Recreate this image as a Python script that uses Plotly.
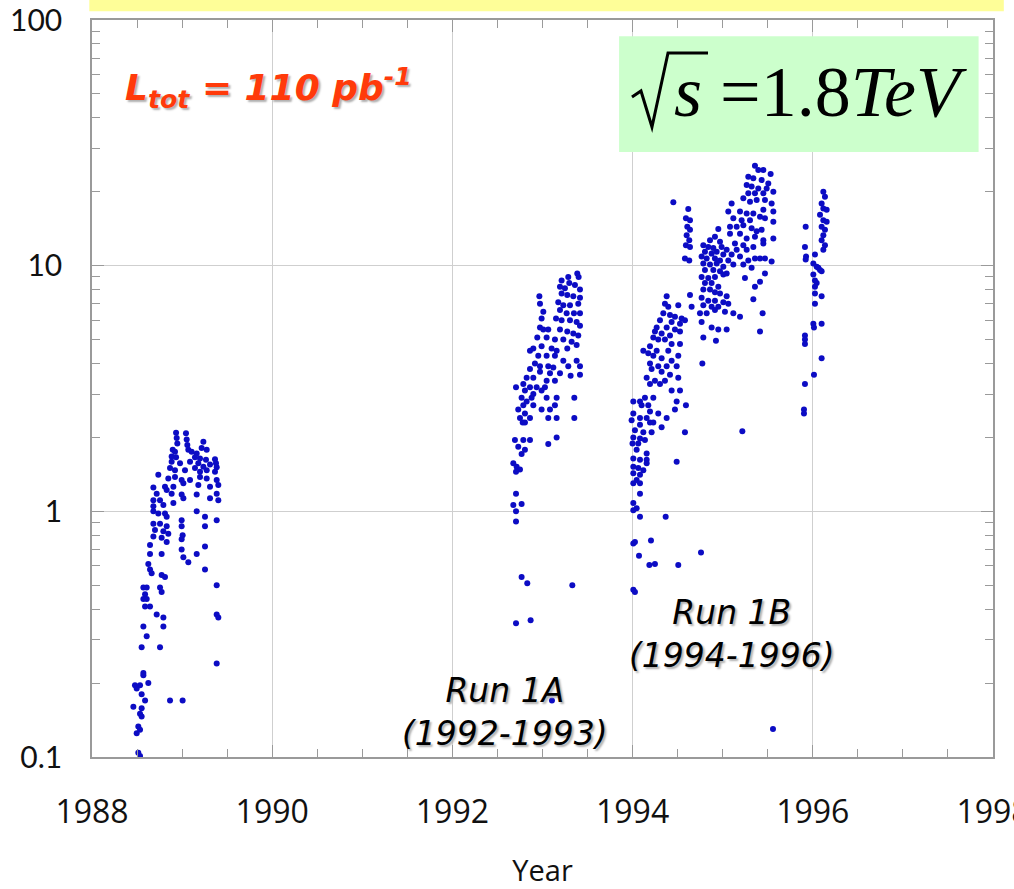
import plotly.graph_objects as go

# ---- data: (year, peak luminosity) ----
run0_year = [1988.933,1989.043,1988.940,1989.051,1988.947,1989.058,1989.236,1988.896,1988.921,1989.069,
 1989.106,1989.162,1989.217,1989.273,1988.884,1988.933,1989.143,1989.199,1989.265,1989.365,
 1989.376,1988.884,1988.977,1989.088,1989.180,1989.236,1989.310,1989.384,1988.866,1988.921,
 1989.032,1989.143,1989.199,1989.273,1989.365,1988.736,1988.847,1988.921,1988.995,1989.088,
 1989.199,1989.273,1989.384,1988.681,1988.810,1988.903,1989.014,1989.180,1989.310,1989.402,
 1988.718,1988.829,1988.884,1988.995,1989.162,1989.384,1988.681,1988.755,1988.903,1989.014,
 1989.310,1989.402,1988.681,1988.792,1988.681,1988.736,1988.810,1988.829,1988.995,1989.162,
 1989.254,1989.384,1988.681,1988.755,1988.829,1988.995,1989.254,1988.699,1988.792,1988.847,
 1989.006,1988.681,1988.773,1988.995,1988.644,1988.829,1988.995,1988.644,1988.773,1989.162,
 1989.254,1989.014,1989.069,1988.625,1988.644,1988.662,1989.254,1988.773,1988.810,1988.570,
 1988.607,1988.589,1988.570,1988.607,1988.589,1988.644,1988.755,1988.773,1989.384,1988.718,
 1988.792,1988.792,1989.384,1989.402,1988.570,1988.607,1988.551,1988.755,1988.570,1988.570,
 1988.477,1988.533,1988.625,1988.496,1988.551,1988.589,1988.459,1988.551,1988.533,1988.551,
 1988.514,1988.496,1988.533,1989.384,1988.866,1989.006,1988.514,1988.533]
run0_lum = [2.09,2.08,1.99,1.96,1.89,1.86,1.92,1.78,1.75,1.78,
 1.75,1.72,1.81,1.78,1.67,1.66,1.66,1.64,1.62,1.63,
 1.57,1.59,1.57,1.59,1.57,1.52,1.55,1.51,1.50,1.47,
 1.47,1.50,1.45,1.47,1.45,1.41,1.36,1.38,1.34,1.34,
 1.38,1.36,1.34,1.25,1.26,1.26,1.30,1.28,1.26,1.28,
 1.18,1.22,1.18,1.17,1.17,1.18,1.11,1.11,1.08,1.13,
 1.13,1.11,1.05,1.06,1.00,0.98,0.98,0.95,0.92,1.00,
 0.95,0.92,0.89,0.89,0.87,0.87,0.87,0.84,0.83,0.81,
 0.80,0.79,0.78,0.77,0.73,0.75,0.70,0.67,0.67,0.67,
 0.72,0.65,0.62,0.61,0.58,0.56,0.58,0.55,0.54,0.49,
 0.49,0.46,0.44,0.44,0.41,0.41,0.49,0.47,0.50,0.38,
 0.37,0.34,0.38,0.37,0.34,0.31,0.28,0.28,0.22,0.215,
 0.196,0.196,0.20,0.19,0.18,0.17,0.16,0.158,0.15,0.146,
 0.133,0.125,0.129,0.24,0.17,0.17,0.104,0.101]

run1a_year = [1993.386,1993.401,1993.286,1993.212,1993.297,1993.194,1993.249,1993.360,1993.416,1993.212,
 1993.275,1993.342,1993.416,1992.965,1992.972,1993.175,1993.231,1993.305,1993.397,1993.009,
 1993.194,1993.268,1993.349,1993.416,1992.990,1993.150,1993.212,1993.305,1993.379,1993.416,
 1992.972,1993.009,1993.064,1993.194,1993.275,1993.342,1993.397,1992.942,1993.046,1993.138,
 1993.231,1993.323,1993.379,1992.898,1992.990,1993.101,1993.157,1993.275,1992.861,1992.953,
 1993.046,1993.138,1993.231,1993.379,1992.916,1992.972,1993.064,1993.120,1993.286,1993.416,
 1992.861,1992.972,1993.083,1993.194,1993.312,1993.416,1992.824,1992.898,1993.046,1993.138,
 1992.787,1992.861,1992.935,1993.027,1992.706,1992.805,1992.898,1992.990,1992.768,1992.879,
 1993.046,1993.157,1993.353,1992.824,1992.787,1992.898,1992.990,1993.083,1993.138,1992.731,
 1992.805,1992.750,1992.861,1993.064,1993.157,1993.353,1992.780,1992.805,1992.694,1992.787,
 1992.861,1993.157,1993.064,1992.731,1992.805,1992.768,1992.676,1992.713,1992.750,1992.706,
 1992.706,1992.676,1992.768,1992.706,1992.706,1992.768,1992.831,1993.331,1992.706,1992.868,
 1993.105]
run1a_lum = [9.3,9.0,9.0,8.7,8.5,8.2,8.1,8.35,8.0,7.7,
 7.6,7.5,7.4,7.5,7.0,7.1,6.9,6.9,7.0,6.5,
 6.6,6.4,6.4,6.4,6.1,6.1,6.0,6.0,5.9,5.7,
 5.6,5.5,5.5,5.5,5.4,5.3,5.2,5.1,5.1,5.0,
 5.0,4.9,4.75,4.6,4.7,4.6,4.5,4.6,4.5,4.3,
 4.3,4.3,4.1,4.1,4.0,3.9,3.9,3.85,3.9,3.9,
 3.8,3.7,3.65,3.65,3.56,3.6,3.5,3.5,3.4,3.4,
 3.3,3.2,3.2,3.2,3.2,3.1,3.0,3.1,2.9,2.9,
 2.9,2.9,2.9,2.8,2.7,2.7,2.6,2.6,2.7,2.6,
 2.5,2.4,2.4,2.4,2.4,2.4,2.3,2.3,1.95,1.95,
 1.95,2.0,1.88,1.83,1.78,1.71,1.57,1.52,1.48,1.45,
 1.18,1.06,1.07,1.0,0.91,0.54,0.51,0.50,0.35,0.36,
 0.17]

run1b_year = [1994.378,1994.359,1994.396,1994.507,1994.341,1994.415,1994.470,1994.544,1994.581,1994.304,
 1994.433,1994.526,1994.267,1994.378,1994.470,1994.248,1994.322,1994.415,1994.526,1994.230,
 1994.285,1994.359,1994.433,1994.526,1994.193,1994.119,1994.267,1994.396,1994.507,1994.174,
 1994.230,1994.322,1994.433,1994.193,1994.285,1994.378,1994.489,1994.211,1994.322,1994.415,
 1994.156,1994.248,1994.359,1994.507,1994.193,1994.304,1994.008,1994.082,1994.137,1994.230,
 1994.100,1994.174,1994.193,1994.433,1994.526,1994.489,1994.592,1994.008,1994.082,1994.156,
 1994.285,1994.470,1994.193,1994.378,1993.989,1994.082,1994.230,1994.026,1994.119,1994.211,
 1994.322,1994.581,1994.008,1994.082,1993.999,1994.063,1994.137,1994.045,1994.156,1994.008,
 1994.082,1994.156,1994.008,1994.063,1994.119,1994.156,1994.489,1994.008,1994.082,1994.045,
 1994.008,1994.082,1994.082,1994.008,1994.045,1994.008,1994.082,1994.367,1994.008,1994.026,
 1994.204,1994.071,1994.186,1994.248,1994.507,1994.759,1994.008,1994.026,1995.218,
 # 1994.6 group
 1994.452,1994.618,1994.592,1994.637,1994.607,1994.637,1994.600,1994.629,1994.592,1994.637,
 1994.581,1994.629,1994.637,1994.655,
 # late 1994 / early 1995
 1994.951,1994.914,1994.859,1994.970,1994.785,1994.840,1994.896,1994.988,1995.044,1994.803,
 1994.877,1994.933,1995.007,1995.099,1994.766,1994.822,1994.914,1994.970,1995.062,1994.785,
 1994.859,1994.933,1995.007,1995.118,1994.803,1994.896,1994.970,1995.044,1994.766,1994.840,
 1994.914,1995.007,1994.803,1994.877,1994.951,1994.785,1994.859,1994.914,1994.970,1995.044,
 1994.766,1994.840,1994.914,1995.007,1995.062,1994.785,1994.877,1994.951,1994.748,1994.822,
 1994.914,1995.025,1995.118,1995.192,1994.766,1994.877,1994.951,1995.044,1994.785,1994.925,
 1994.774,
 # 1995
 1995.358,1995.395,1995.451,1995.532,1995.284,1995.340,1995.432,1995.506,1995.266,1995.321,
 1995.395,1995.488,1995.562,1995.284,1995.358,1995.451,1995.229,1995.303,1995.377,1995.469,
 1995.543,1995.099,1995.062,1995.192,1995.266,1995.340,1995.451,1995.562,1995.118,1995.210,
 1995.303,1995.414,1995.469,1995.562,1995.081,1995.155,1995.229,1995.321,1995.377,1995.432,
 1995.081,1995.192,1995.266,1995.358,1995.451,1995.562,1995.136,1995.229,1995.340,1995.451,
 1995.155,1995.266,1995.358,1995.414,1995.469,1995.543,1995.192,1995.284,1995.229,1995.321,
 1995.469,1995.247,1995.358,1995.414,1995.340,1995.443,1995.414,1995.558,
 # 1996
 1996.117,1996.135,1996.098,1996.117,1996.154,1996.080,1996.117,1996.154,1996.098,1996.135,
 1996.117,1996.098,1996.135,1996.117,1995.921,1995.913,1995.925,1995.921,1996.024,1996.006,
 1996.043,1996.061,1996.080,1996.098,1996.006,1996.024,1996.043,1996.024,1996.098,1996.024,
 1996.024,1996.006,1996.013,1996.098,1995.913,1995.913,1995.913,1996.098,1996.013,1995.913,
 1995.902,1995.902]
run1b_lum = [7.5,7.0,6.8,6.9,6.4,6.3,6.2,6.1,6.0,6.0,
 5.9,5.8,5.6,5.6,5.5,5.4,5.3,5.2,5.4,5.1,
 5.0,5.0,4.8,4.8,4.7,4.5,4.5,4.5,4.3,4.4,
 4.3,4.2,4.1,4.0,3.9,3.9,3.9,3.8,3.7,3.6,
 3.5,3.4,3.4,3.5,3.3,3.3,2.8,2.8,2.9,2.9,
 2.7,2.7,2.55,3.1,3.1,2.8,2.7,2.5,2.4,2.4,
 2.5,2.6,2.3,2.4,2.35,2.25,2.3,2.14,2.1,2.1,
 2.2,2.1,2.0,1.98,1.89,1.89,1.95,1.78,1.72,1.64,
 1.62,1.62,1.52,1.50,1.47,1.57,1.59,1.43,1.41,1.34,
 1.30,1.30,1.18,1.08,1.03,1.01,0.95,0.95,0.74,0.75,
 0.76,0.66,0.605,0.61,0.605,0.68,0.48,0.47,2.12,
 18.1,17.0,15.6,15.3,14.4,14.0,13.3,12.7,12.1,11.9,
 10.7,10.5,7.6,6.8,
 14.1,13.1,12.7,12.5,12.1,11.9,11.8,11.9,11.6,11.4,
 11.2,11.4,11.1,11.1,10.9,10.7,10.7,10.5,10.5,10.2,
 10.1,10.2,9.9,10.1,9.6,9.6,9.5,9.3,9.0,8.9,
 9.0,9.2,8.5,8.5,8.2,8.0,8.0,7.8,7.7,7.5,
 7.4,7.2,7.2,7.1,7.0,6.9,6.8,6.8,6.4,6.4,
 6.6,6.5,6.4,6.2,5.9,5.6,5.5,5.5,5.1,4.95,
 4.0,
 25.5,24.5,24.5,23.6,23.0,22.7,22.3,21.6,21.3,21.0,
 20.6,20.6,20.0,19.7,19.7,19.7,18.8,18.2,18.5,18.5,
 17.9,17.9,16.6,16.6,16.3,16.3,16.9,16.6,15.6,15.3,
 15.3,15.8,15.6,15.1,14.4,14.4,14.6,14.2,13.8,14.0,
 13.5,13.5,12.9,13.1,12.7,12.9,12.3,12.1,11.9,12.3,
 11.6,11.6,10.7,10.7,10.7,10.4,10.9,10.5,10.1,9.8,
 9.3,8.9,8.2,8.6,7.3,6.4,5.4,0.13,
 20.0,19.1,17.9,17.1,16.9,16.1,15.3,15.1,14.4,14.0,
 13.3,12.7,12.1,11.6,14.4,11.9,10.9,10.6,11.1,10.2,
 9.9,9.8,9.6,9.5,9.2,8.7,8.5,8.2,7.5,7.7,
 7.0,5.8,5.6,5.8,5.2,5.0,4.8,4.2,3.6,3.3,
 2.6,2.5]

x_ticks = [1988, 1990, 1992, 1994, 1996, 1998]
y_ticks = [0.1, 1, 10, 100]
y_tick_text = ["0.1", "1", "10", "100"]
y_minor = [0.2,0.3,0.4,0.5,0.6,0.7,0.8,0.9,2,3,4,5,6,7,8,9,20,30,40,50,60,70,80,90]

marker = dict(size=6, color="#0c0cc4", line=dict(width=0))
fig = go.Figure()
for xs, ys in [(run0_year, run0_lum), (run1a_year, run1a_lum), (run1b_year, run1b_lum)]:
    fig.add_trace(go.Scatter(x=xs, y=ys, mode="markers", marker=marker,
                             showlegend=False, hoverinfo="x+y"))

axis_col = "#9a9a9a"
grid_col = "#cfcfcf"
fig.update_xaxes(range=[1988, 1998], tickvals=x_ticks, showgrid=True, gridcolor=grid_col,
                 gridwidth=1, zeroline=False, showline=True, linecolor=axis_col, linewidth=1.5,
                 mirror="ticks", ticks="inside", ticklen=12, tickcolor=axis_col,
                 minor=dict(dtick=0.5, ticks="inside", ticklen=8, tickcolor=axis_col, showgrid=False),
                 tickfont=dict(family="Open Sans", size=32, color="#111"),
                 ticklabelstandoff=26, ticklabeloverflow="allow", automargin=False,
                 title=dict(text="Year", font=dict(family="Open Sans", size=29, color="#111"), standoff=34))
fig.update_yaxes(type="log", range=[-1, 2], tickvals=y_ticks, ticktext=y_tick_text,
                 showgrid=True, gridcolor=grid_col, gridwidth=1, zeroline=False,
                 showline=True, linecolor=axis_col, linewidth=1.5, mirror="ticks",
                 ticks="inside", ticklen=12, tickcolor=axis_col, automargin=False,
                 minor=dict(tickvals=y_minor, ticks="inside", ticklen=8, tickcolor=axis_col, showgrid=False),
                 tickfont=dict(family="Lato", size=30, color="#111"), ticklabelstandoff=22)

# radical sign drawn as a path (paper coordinates)
radical = "M 0.5993 0.8955 L 0.6093 0.9037 L 0.6215 0.8548 L 0.6393 0.9552 L 0.6837 0.9552"
shapes = [
    dict(type="rect", xref="paper", yref="paper", x0=-0.003, x1=1.012, y0=1.012, y1=1.03,
         fillcolor="#fefe98", line=dict(width=0), layer="above"),
    dict(type="rect", xref="paper", yref="paper", x0=0.585, x1=0.984, y0=0.821, y1=0.978,
         fillcolor="#ccffcc", line=dict(width=0), layer="above"),
    dict(type="path", xref="paper", yref="paper", path=radical,
         line=dict(color="#000", width=3), layer="above"),
]
fig.update_layout(shapes=shapes)

annotations = [
    dict(xref="paper", yref="paper", x=0.6437, y=0.902, xanchor="left", yanchor="middle",
         showarrow=False, text="<i>s</i> =1.8<i>TeV</i>",
         font=dict(family="Liberation Serif", size=72, color="#000")),
    dict(xref="paper", yref="paper", x=0.034, y=0.908, xanchor="left", yanchor="middle",
         showarrow=False, text="L<sub>tot</sub> = 110 pb<sup>-1</sup>",
         font=dict(family="DejaVu Sans", size=36, color="#ff3a0a", weight="bold", style="italic",
                   shadow="2px 2px 2px #b0b0b0")),
    dict(xref="paper", yref="paper", x=0.458, y=0.061, xanchor="center", yanchor="middle",
         showarrow=False, text="Run 1A<br>(1992-1993)",
         font=dict(family="DejaVu Sans", size=33, color="#000", style="italic",
                   shadow="2px 2px 2px #b0b0b0")),
    dict(xref="paper", yref="paper", x=0.710, y=0.167, xanchor="center", yanchor="middle",
         showarrow=False, text="Run 1B<br>(1994-1996)",
         font=dict(family="DejaVu Sans", size=33, color="#000", style="italic",
                   shadow="2px 2px 2px #b0b0b0")),
]
fig.update_layout(annotations=annotations)

fig.update_layout(width=1014, height=889, margin=dict(l=92, r=21, t=20, b=132),
                  plot_bgcolor="white", paper_bgcolor="white")
fig.write_html("out.html")
